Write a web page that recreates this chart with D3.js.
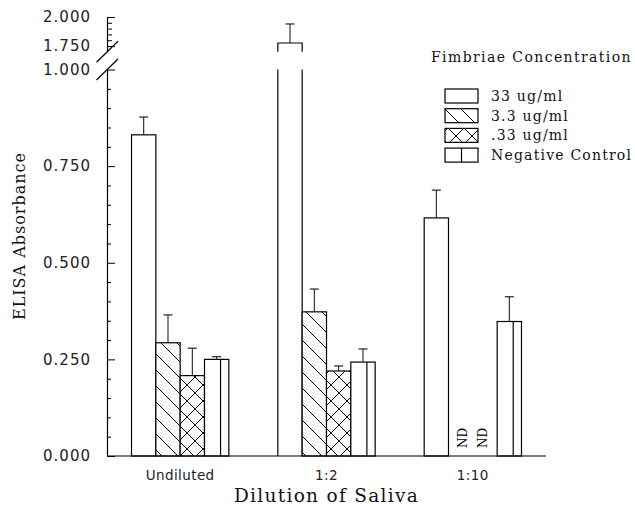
<!DOCTYPE html>
<html>
<head>
<meta charset="utf-8">
<script src="https://cdn.jsdelivr.net/npm/d3@7"></script>
<style>
body{margin:0;background:#fff;}
svg{display:block;}
</style>
</head>
<body>
<div id="chart"></div>
<script>
// groups and series
const groups=['Undiluted','1:2','1:10'];
const seriesNames=['33 ug/ml','3.3 ug/ml','.33 ug/ml','Negative Control'];
// mean absorbance per group (null = not detected)
const val33=[0.831,1.776,0.616];
const val3_3=[0.293,0.373,null];
const val033=[0.208,0.220,null];
const valNeg=[0.250,0.243,0.348];
// upper error
const err33=[0.046,0.164,0.072];
const err3_3=[0.072,0.059,null];
const err033=[0.071,0.013,null];
const errNeg=[0.007,0.034,0.064];
// axis ticks
const lowTicks=[0,0.25,0.5,0.75,1.0];
const highTicks=[1.75,2.0];
const breakLo=1.0,breakHi=1.7,yMax=2.0;

const W=635,H=510,m={t:17,r:89,b:54,l:107};
const w=W-m.l-m.r,h=H-m.t-m.b;
const svg=d3.select('#chart').append('svg').attr('width',W).attr('height',H);

// patterns
const defs=svg.append('defs');
const hatch=defs.append('pattern').attr('id','hatch').attr('patternUnits','userSpaceOnUse').attr('width',16).attr('height',16);
hatch.append('rect').attr('width',16).attr('height',16).attr('fill','#fff');
hatch.append('path').attr('d','M0,0L16,16M-4,12L4,20M12,-4L20,4').attr('stroke','#000').attr('stroke-width',1);
const cross=defs.append('pattern').attr('id','cross').attr('patternUnits','userSpaceOnUse').attr('width',16).attr('height',16);
cross.append('rect').attr('width',16).attr('height',16).attr('fill','#fff');
cross.append('path').attr('d','M0,0L16,16M-4,12L4,20M12,-4L20,4M16,0L0,16M-4,4L4,-4M12,20L20,12').attr('stroke','#000').attr('stroke-width',1);
const fills=['#fff','url(#hatch)','url(#cross)','#fff'];

const g=svg.append('g').attr('transform',`translate(${m.l},${m.t})`);
const x0=d3.scaleBand().domain(groups).range([0,w]).paddingInner(0.335).paddingOuter(0.1675);
const x1=d3.scaleBand().domain(seriesNames).range([0,x0.bandwidth()]);
const yLo=d3.scaleLinear().domain([0,breakLo]).range([h,52.5]);
const yHi=d3.scaleLinear().domain([breakHi,yMax]).range([34.8,0]);
const yOf=v=>v>breakLo?yHi(v):yLo(v);

const vals=[val33,val3_3,val033,valNeg],errs=[err33,err3_3,err033,errNeg];
const rows=[];
groups.forEach((grp,i)=>seriesNames.forEach((s,j)=>rows.push({grp,s,j,v:vals[j][i],e:errs[j][i]})));

const bw=x1.bandwidth();
rows.forEach(d=>{
  const bx=x0(d.grp)+x1(d.s);
  if(d.v==null){
    // not detected
    g.append('text').attr('transform',`translate(${bx+bw/2+(d.j===1?2:-2)},${h-8}) rotate(-90)`)
      .attr('dy','0.36em').attr('font-family','DejaVu Serif').attr('font-size',12).attr('fill','#000').text('ND');
    return;
  }
  if(d.v<=breakLo){
    g.append('rect').attr('x',bx).attr('y',yLo(d.v)).attr('width',bw).attr('height',h-yLo(d.v))
      .attr('fill',fills[d.j]).attr('stroke','#000').attr('stroke-width',1.2);
  }else{
    g.append('rect').attr('x',bx).attr('y',yLo(breakLo)).attr('width',bw).attr('height',h-yLo(breakLo)).attr('fill',fills[d.j]);
    g.append('path').attr('d',`M${bx},${yLo(breakLo)}V${h}M${bx+bw},${yLo(breakLo)}V${h}`).attr('stroke','#000').attr('stroke-width',1.2).attr('fill','none');
    g.append('rect').attr('x',bx).attr('y',yHi(d.v)).attr('width',bw).attr('height',yHi(breakHi)-yHi(d.v)).attr('fill',fills[d.j]);
    g.append('path').attr('d',`M${bx},${yHi(breakHi)}V${yHi(d.v)}H${bx+bw}V${yHi(breakHi)}`).attr('stroke','#000').attr('stroke-width',1.2).attr('fill','none');
  }
  if(d.j===3){
    g.append('line').attr('x1',bx+bw*0.66).attr('x2',bx+bw*0.66).attr('y1',yOf(d.v)).attr('y2',h).attr('stroke','#000').attr('stroke-width',1.2);
  }
  // error bar
  const cx=bx+bw/2,yt=yOf(d.v+d.e);
  g.append('line').attr('x1',cx).attr('x2',cx).attr('y1',yOf(d.v)).attr('y2',yt).attr('stroke','#222').attr('stroke-width',1.1);
  g.append('line').attr('x1',cx-4.5).attr('x2',cx+4.5).attr('y1',yt).attr('y2',yt).attr('stroke','#222').attr('stroke-width',1.2);
});

// baseline
g.append('line').attr('x1',0).attr('x2',w).attr('y1',h).attr('y2',h).attr('stroke','#000').attr('stroke-width',1.2);

// y axes (ticks point inward)
const fmt=d3.format('.3f');
function styleAxis(sel){
  sel.selectAll('path.domain').attr('stroke','#000').attr('stroke-width',1.2);
  sel.selectAll('.tick line').attr('stroke','#000');
  sel.selectAll('.tick text').attr('font-family','DejaVu Sans').attr('font-size',15).attr('letter-spacing',1).attr('fill','#222');
}
g.append('g').call(d3.axisLeft(yLo).tickValues(lowTicks).tickSizeInner(-8).tickSizeOuter(0).tickPadding(16).tickFormat(fmt)).call(styleAxis);
g.append('g').call(d3.axisLeft(yLo).tickValues(d3.range(0.05,1,0.05).filter(t=>Math.abs(t*4-Math.round(t*4))>1e-6)).tickSize(-4).tickFormat(''))
  .call(s=>s.select('.domain').remove()).call(styleAxis);
g.append('g').call(d3.axisLeft(yHi).tickValues(highTicks).tickSizeInner(-8).tickSizeOuter(0).tickPadding(16).tickFormat(fmt)).call(styleAxis);
g.append('g').call(d3.axisLeft(yHi).tickValues([1.8,1.85,1.9,1.95]).tickSize(-5).tickFormat(''))
  .call(s=>s.select('.domain').remove()).call(styleAxis);

// break marks
[yHi(breakHi),yLo(breakLo)].forEach(yy=>{
  g.append('line').attr('x1',-10.5).attr('y1',yy+10.5).attr('x2',11).attr('y2',yy-10.5).attr('stroke','#000').attr('stroke-width',1.2);
});

// x labels
g.selectAll('.xl').data(groups).join('text').attr('class','xl')
  .attr('x',d=>x0(d)+x0.bandwidth()/2).attr('y',h+24).attr('text-anchor','middle')
  .attr('font-family','DejaVu Sans').attr('font-size',13.5).attr('letter-spacing',0.4).attr('fill','#222').text(d=>d);

// titles
g.append('text').attr('x',w/2).attr('y',h+46).attr('text-anchor','middle')
  .attr('font-family','DejaVu Serif').attr('font-size',18.5).attr('letter-spacing',1.3).attr('fill','#111').text('Dilution of Saliva');
svg.append('text').attr('transform','translate(25,236) rotate(-90)').attr('text-anchor','middle')
  .attr('font-family','DejaVu Serif').attr('font-size',16).attr('letter-spacing',1).attr('fill','#111').text('ELISA Absorbance');

// legend
const leg=svg.append('g');
leg.append('text').attr('x',431).attr('y',62).attr('font-family','DejaVu Serif').attr('font-size',14).attr('letter-spacing',1.4).attr('fill','#111').text('Fimbriae Concentration');
seriesNames.forEach((s,i)=>{
  const cy=96+i*19.7;
  leg.append('rect').attr('x',445).attr('y',cy-7).attr('width',33).attr('height',14).attr('fill',fills[i]).attr('stroke','#000').attr('stroke-width',1.2);
  if(i===3) leg.append('line').attr('x1',461.5).attr('x2',461.5).attr('y1',cy-7).attr('y2',cy+7).attr('stroke','#000').attr('stroke-width',1.2);
  leg.append('text').attr('x',491).attr('y',cy+5).attr('font-family','DejaVu Serif').attr('font-size',14).attr('letter-spacing',1.2).attr('fill','#111').text(s);
});
</script>
</body>
</html>
